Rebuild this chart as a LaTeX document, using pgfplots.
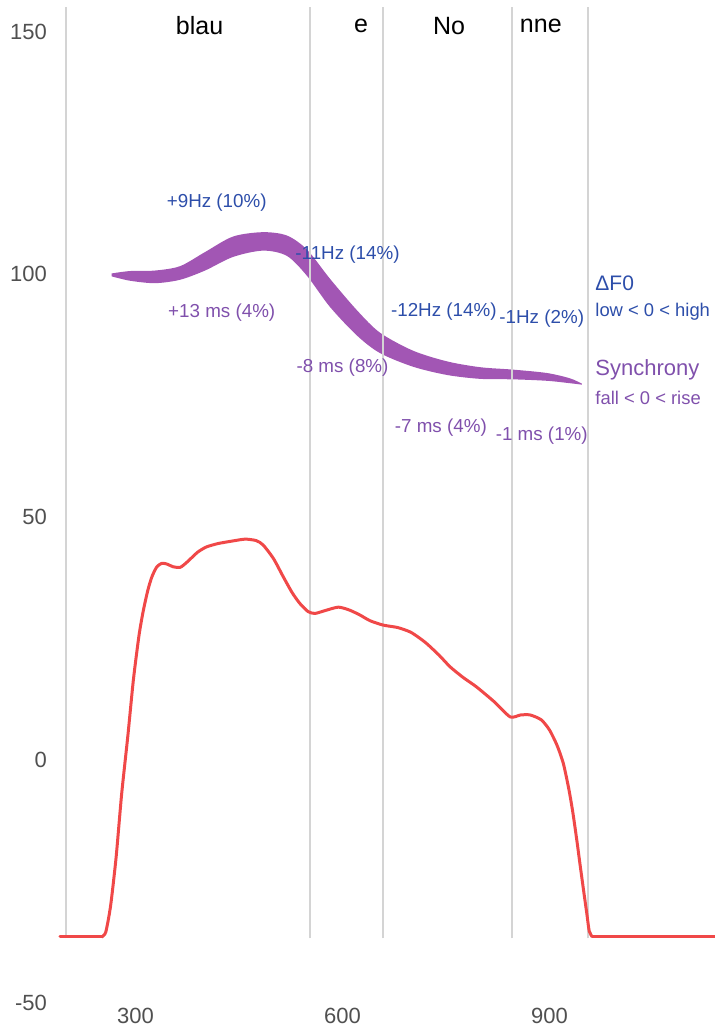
\documentclass[border=0pt]{standalone}
\usepackage{fontspec}
\setmainfont{Liberation Sans}
\usepackage{pgfplots}
\pgfplotsset{compat=1.18}
\usepgfplotslibrary{fillbetween}
\usetikzlibrary{calc}

\definecolor{syncband}{RGB}{162,86,180}
\definecolor{fblue}{RGB}{45,78,170}
\definecolor{synctext}{RGB}{128,80,172}
\definecolor{ampred}{RGB}{240,72,72}
\definecolor{sepgray}{RGB}{212,212,212}
\definecolor{tickgray}{RGB}{80,80,80}

\newcommand{\tl}{\fontsize{11}{13}\selectfont}
\newcommand{\ann}{\fontsize{9.4}{11}\selectfont}

\begin{document}
\begin{tikzpicture}
\begin{axis}[
    scale only axis,
    width=327.5pt, height=501.5pt,
    xmin=190.7, xmax=1139.7,
    ymin=-50, ymax=156.5,
    axis line style={draw=none},
    tick style={draw=none},
    xtick={300,600,900},
    ytick={-50,0,50,100,150},
    ticklabel style={font=\tl, text=tickgray},
    yticklabel style={xshift=-3pt},
    xticklabel style={yshift=1pt},
    /pgf/number format/assume math mode=true,
    clip=false,
]
% word boundaries
\addplot[sepgray, line width=1pt] coordinates {(200,-36.7) (200,155)};
\addplot[sepgray, line width=1pt] coordinates {(553,-36.7) (553,155)};
\addplot[sepgray, line width=1pt] coordinates {(659,-36.7) (659,155)};
\addplot[sepgray, line width=1pt] coordinates {(845,-36.7) (845,155)};
\addplot[sepgray, line width=1pt] coordinates {(956,-36.7) (956,155)};

% amplitude envelope: silent floor + voiced part
\addplot[ampred, line width=1.5pt, line cap=round] coordinates {(190.7,-36.4) (251,-36.4)};
\addplot[ampred, line width=1.5pt, line cap=round] coordinates {(962,-36.4) (1139.7,-36.4)};
\addplot[ampred, line width=1.5pt, line join=round, smooth, tension=0.4] coordinates {
(251,-36.4) (257,-35.4) (264,-30) (272,-20) (280,-7)
(289,5) (297,16.5) (305,25.5) (311,30.5) (318,35) (324,37.8)
(331,39.8) (338,40.5) (345,40.4) (355,39.8) (365,39.7) (375,40.8)
(390,42.8) (403,43.9) (420,44.6) (440,45.1) (459,45.5) (475,45.2)
(485,44.3) (500,41.5) (514,37.8) (527,34.5) (538,32.3) (550,30.6)
(560,30.2) (575,30.8) (594,31.5) (610,30.9) (625,29.9) (640,28.7)
(659,27.8) (680,27.3) (698,26.4) (710,25.3) (722,24.0) (740,21.6)
(756,19.2) (775,17.0) (794,15.1) (820,12.0) (843,8.9) (858,9.3)
(872,9.3) (888,8.3) (900,6.2) (911,3.0) (920,-0.7) (928,-6)
(934,-11) (940,-17) (944,-21.3) (949,-26.5) (954,-31.6) (957.5,-35.2)
(962,-36.4)
};

% F0 / synchrony band
\addplot[name path=up, draw=none, smooth] coordinates {
(265.6,100.2) (292.2,100.7) (328.4,100.8) (364.6,101.7) (400.8,104.6)
(441.4,107.8) (484.9,108.7) (519.6,108.0) (548.6,105.1) (581.9,99.1)
(621.1,92.6) (654.4,88.0) (702.2,84.3) (751.4,82.1) (799.3,80.9)
(847.1,80.4) (896.3,79.7) (929.7,78.6) (947.0,77.5)
};
\addplot[name path=lo, draw=none, smooth] coordinates {
(265.6,99.6) (292.2,98.7) (328.4,98.2) (364.6,98.9) (400.8,100.8)
(441.4,103.6) (484.9,104.9) (519.6,103.8) (548.6,99.7) (581.9,93.3)
(621.1,87.4) (654.4,83.8) (702.2,81.0) (751.4,79.3) (799.3,78.5)
(847.1,78.4) (896.3,78.1) (929.7,77.6) (947.0,77.3)
};
\addplot[syncband, draw=none] fill between[of=up and lo];

% words
\node[font=\fontsize{12.5}{15}\selectfont] at (axis cs:392.9,151.2) {blau};
\node[font=\fontsize{12.5}{15}\selectfont] at (axis cs:626.9,151.2) {e};
\node[font=\fontsize{12.5}{15}\selectfont] at (axis cs:754.3,151.2) {No};
\node[font=\fontsize{12.5}{15}\selectfont] at (axis cs:887.4,151.2) {nne};

% F0 annotations
\node[font=\ann, text=fblue] at (axis cs:417.8,114.7) {+9Hz (10\%)};
\node[font=\ann, text=fblue] at (axis cs:607.3,104.0) {-11Hz (14\%)};
\node[font=\ann, text=fblue] at (axis cs:746.8,92.3) {-12Hz (14\%)};
\node[font=\ann, text=fblue] at (axis cs:888.7,91.0) {-1Hz (2\%)};

% synchrony annotations
\node[font=\ann, text=synctext] at (axis cs:425.0,92.1) {+13 ms (4\%)};
\node[font=\ann, text=synctext] at (axis cs:600.0,80.9) {-8 ms (8\%)};
\node[font=\ann, text=synctext] at (axis cs:742.5,68.4) {-7 ms (4\%)};
\node[font=\ann, text=synctext] at (axis cs:888.7,66.9) {-1 ms (1\%)};

% key
\node[anchor=west, inner sep=0pt, font=\fontsize{10.5}{12}\selectfont, text=fblue] at (axis cs:965.9,98.2) {ΔF0};
\node[anchor=west, inner sep=0pt, font=\fontsize{9.2}{11}\selectfont, text=fblue] at (axis cs:965.9,92.3) {low < 0 < high};
\node[anchor=west, inner sep=0pt, font=\fontsize{11}{13}\selectfont, text=synctext] at (axis cs:965.9,80.3) {Synchrony};
\node[anchor=west, inner sep=0pt, font=\fontsize{9.2}{11}\selectfont, text=synctext] at (axis cs:965.9,74.6) {fall < 0 < rise};

\coordinate (sw) at (rel axis cs:0,0);
\coordinate (ne) at (rel axis cs:1,1);
\end{axis}
\pgfresetboundingbox
\path ($(sw)+(-30pt,-13.5pt)$) rectangle (ne);
\end{tikzpicture}
\end{document}
